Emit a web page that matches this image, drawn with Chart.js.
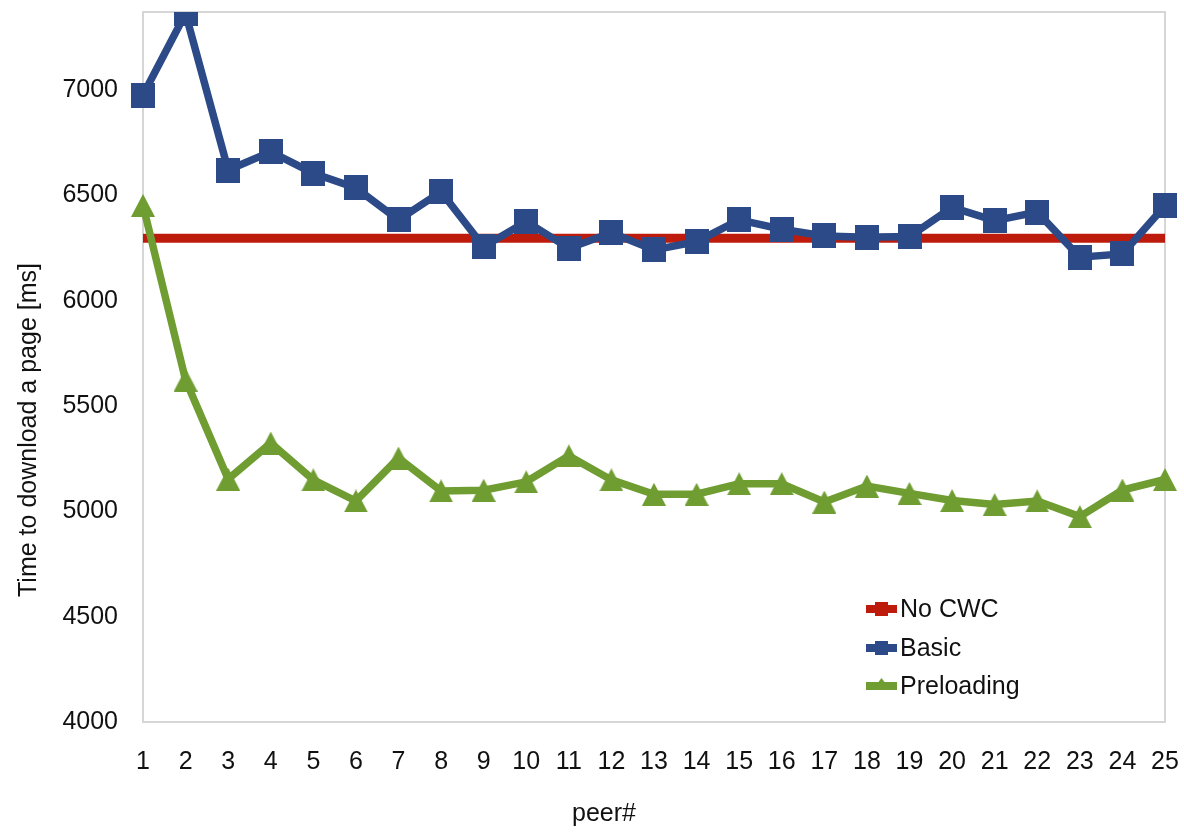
<!DOCTYPE html>
<html>
<head>
<meta charset="utf-8">
<title>Time to download a page</title>
<script src="https://cdn.jsdelivr.net/npm/chart.js@4/dist/chart.umd.min.js"></script>
<style>
  html, body { margin: 0; padding: 0; background: #ffffff; }
  #wrap { position: relative; width: 1184px; height: 832px; }
</style>
</head>
<body>
<div id="wrap"><canvas id="c" width="1184" height="832"></canvas></div>
<script>
// Peers and measured page download times (ms)
const peers = ['1','2','3','4','5','6','7','8','9','10','11','12','13','14','15','16','17','18','19','20','21','22','23','24','25'];
const noCwc = [6296,6296,6296,6296,6296,6296,6296,6296,6296,6296,6296,6296,6296,6296,6296,6296,6296,6296,6296,6296,6296,6296,6296,6296,6296];
const basic = [6976,7363,6620,6706,6605,6535,6383,6517,6256,6375,6249,6322,6241,6280,6383,6339,6307,6301,6304,6443,6380,6420,6206,6222,6450];
const preloading = [6452,5623,5153,5324,5149,5049,5253,5097,5100,5140,5263,5149,5081,5081,5131,5131,5044,5120,5085,5051,5032,5049,4975,5101,5151];
const yTicks = [4000,4500,5000,5500,6000,6500,7000];
const seriesNames = ['No CWC','Basic','Preloading'];
const yTitle = 'Time to download a page [ms]';
const xTitle = 'peer#';

const RED = '#bd1c0c';
const BLUE = '#2b4a87';
const GREEN = '#6f9d31';
const FONT = '"Liberation Sans", Arial, Helvetica, sans-serif';

// Marker images, drawn centred on each point by Chart.js
function squareMarker(w, h, color) {
  const cv = document.createElement('canvas');
  cv.width = w; cv.height = h;
  const g = cv.getContext('2d');
  g.fillStyle = color;
  g.fillRect(0, 0, w, h);
  return cv;
}
function triangleMarker(w, h, color) {
  const cv = document.createElement('canvas');
  cv.width = w; cv.height = h;
  const g = cv.getContext('2d');
  g.fillStyle = color;
  g.beginPath();
  g.moveTo(w / 2, 0);
  g.lineTo(w, h);
  g.lineTo(0, h);
  g.closePath();
  g.fill();
  return cv;
}
const squareImg = squareMarker(24, 25, BLUE);
const triImg = triangleMarker(24, 23, GREEN);

// Light frame around the plot area
const framePlugin = {
  id: 'frame',
  beforeDatasetsDraw(chart) {
    const a = chart.chartArea, ctx = chart.ctx;
    ctx.save();
    ctx.strokeStyle = '#d6d6d6';
    ctx.lineWidth = 2;
    ctx.strokeRect(a.left, a.top, a.right - a.left, a.bottom - a.top);
    ctx.restore();
  }
};

// Axis titles and the in-plot legend
const annotPlugin = {
  id: 'annot',
  afterDraw(chart) {
    const ctx = chart.ctx;
    ctx.save();
    ctx.fillStyle = '#111111';
    ctx.font = '25px ' + FONT;
    ctx.textAlign = 'center';
    ctx.textBaseline = 'middle';
    ctx.fillText(xTitle, 604, 814);
    ctx.translate(29, 430);
    ctx.rotate(-Math.PI / 2);
    ctx.fillText(yTitle, 0, 0);
    ctx.restore();

    const colors = [RED, BLUE, GREEN];
    const rows = [609, 648, 686];
    ctx.save();
    ctx.font = '25px ' + FONT;
    ctx.textAlign = 'left';
    ctx.textBaseline = 'middle';
    seriesNames.forEach((name, i) => {
      const cy = rows[i];
      ctx.fillStyle = colors[i];
      ctx.fillRect(866, cy - 4, 31, 8);
      if (i < 2) {
        ctx.fillRect(875, cy - 7, 13, 14);
      } else {
        ctx.beginPath();
        ctx.moveTo(881.5, cy - 8);
        ctx.lineTo(889, cy + 2);
        ctx.lineTo(874, cy + 2);
        ctx.closePath();
        ctx.fill();
      }
      ctx.fillStyle = '#111111';
      ctx.fillText(name, 900, cy + 1);
    });
    ctx.restore();
  }
};

function noScalePadding(s) {
  s.paddingTop = 0; s.paddingBottom = 0; s.paddingLeft = 0; s.paddingRight = 0;
}

new Chart(document.getElementById('c'), {
  type: 'line',
  data: {
    labels: peers,
    datasets: [
      {
        label: seriesNames[1], data: basic, order: 1,
        borderColor: BLUE, backgroundColor: BLUE, borderWidth: 7.5,
        pointStyle: squareImg, pointRadius: 12, tension: 0
      },
      {
        label: seriesNames[2], data: preloading, order: 2,
        borderColor: GREEN, backgroundColor: GREEN, borderWidth: 7.5,
        pointStyle: triImg, pointRadius: 12, tension: 0
      },
      {
        label: seriesNames[0], data: noCwc, order: 3,
        borderColor: RED, backgroundColor: RED, borderWidth: 9,
        pointRadius: 0, tension: 0, borderCapStyle: 'butt'
      }
    ]
  },
  options: {
    responsive: false,
    animation: false,
    devicePixelRatio: 1,
    layout: { autoPadding: false, padding: { left: 0, right: 19, top: 12, bottom: 0 } },
    plugins: { legend: { display: false }, tooltip: { enabled: false } },
    elements: { line: { borderJoinStyle: 'miter' } },
    scales: {
      x: {
        type: 'category',
        offset: false,
        grid: { display: false, drawTicks: false },
        border: { display: false },
        ticks: { color: '#111111', font: { family: FONT, size: 25 }, padding: 25, maxRotation: 0, autoSkip: false },
        afterFit(s) { s.height = 110; noScalePadding(s); }
      },
      y: {
        min: 4000, max: 7370,
        grid: { display: false, drawTicks: false },
        border: { display: false },
        ticks: {
          color: '#111111', font: { family: FONT, size: 25 }, padding: 25,
          callback: v => String(v)
        },
        afterBuildTicks(s) { s.ticks = yTicks.map(v => ({ value: v })); },
        afterFit(s) { s.width = 143; noScalePadding(s); }
      }
    }
  },
  plugins: [framePlugin, annotPlugin]
});
</script>
</body>
</html>
